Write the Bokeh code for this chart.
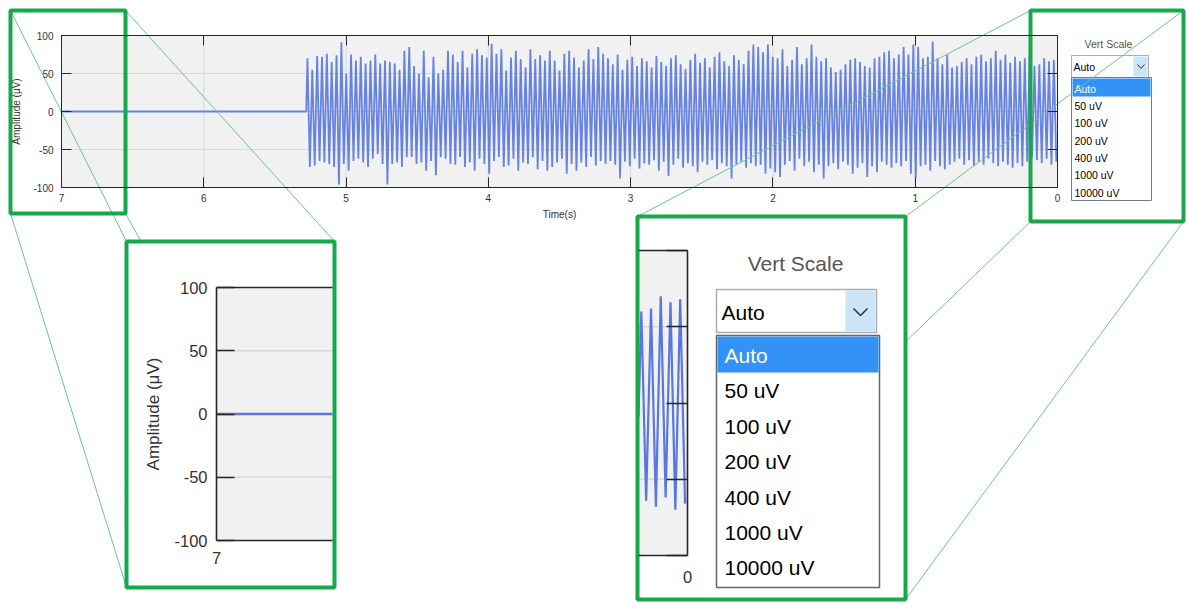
import numpy as np
from bokeh.plotting import figure
from bokeh.models import Range1d, LinearAxis, FixedTicker, CustomJSTickFormatter
from bokeh.core.properties import value
from bokeh.embed import file_html
from bokeh.resources import INLINE

# ---------------- data ----------------
time_ticks = [0, 1, 2, 3, 4, 5, 6, 7]
time_tick_labels = ["0", "1", "2", "3", "4", "5", "6", "7"]
amp_ticks = [-100, -50, 0, 50, 100]
amp_tick_labels = ["-100", "-50", "0", "50", "100"]
amp_grid = [-50, 0, 50]
record_len = 7.0      # s (left end of the reversed time axis)
onset = 5.28          # s, end of the flat baseline

upper_peaks = [
    70, 55, 73, 72, 76, 65, 74, 91, 50, 75, 67, 72, 63, 67, 75, 63, 67, 65, 63, 55, 80, 85, 60, 50, 80, 45, 72, 50, 55, 80, 75,
    65, 80, 58, 76, 82, 74, 71, 89, 76, 82, 54, 71, 80, 69, 58, 82, 69, 74, 67, 80, 67, 54, 76, 80, 71, 58, 67, 82, 69, 85, 76,
    70, 62, 75, 55, 68, 72, 60, 70, 66, 58, 73, 65, 60, 70, 74, 62, 56, 68, 76, 64, 70, 58, 72, 78, 66, 60, 74, 68, 62, 80, 88,
    85, 78, 88, 72, 70, 82, 60, 68, 85, 62, 70, 88, 72, 66, 70, 58, 52, 55, 62, 68, 70, 65, 60, 58, 70, 72, 78, 80, 70, 75, 85,
    75, 88, 85, 70, 72, 92, 70, 62, 75, 58, 60, 65, 70, 62, 72, 75, 66, 70, 80, 68, 75, 64, 72, 66, 70, 74, 60, 62, 70, 66, 68,
]
lower_peaks = [
    -73, -71, -65, -67, -69, -73, -96, -69, -78, -65, -62, -67, -73, -62, -56, -69, -96, -69, -67, -73, -60, -60, -69, -67, -78, -65, -84, -60, -62, -69, -70,
    -60, -73, -67, -78, -62, -69, -82, -65, -60, -73, -71, -62, -78, -67, -69, -60, -76, -65, -78, -73, -67, -62, -82, -69, -78, -67, -73, -60, -71, -65, -69,
    -65, -70, -88, -66, -72, -62, -75, -68, -70, -64, -78, -66, -85, -70, -62, -74, -68, -72, -80, -66, -70, -64, -76, -68, -72, -88, -70, -66, -74, -68, -72,
    -70, -82, -75, -80, -86, -70, -65, -78, -62, -72, -66, -80, -70, -88, -72, -68, -76, -66, -70, -82, -74, -68, -86, -72, -80, -66, -70, -74, -68, -72, -65,
    -82, -88, -72, -70, -78, -65, -72, -76, -70, -66, -62, -70, -64, -72, -66, -70, -62, -68, -72, -66, -70, -74, -68, -72, -66, -60, -64, -68, -62, -70, -66,
]
scale_options = ["Auto", "50 uV", "100 uV", "200 uV", "400 uV", "1000 uV", "10000 uV"]

# ---------------- signal assembly ----------------
n = len(upper_peaks)
extrema = np.empty(2 * n)
extrema[0::2] = upper_peaks
extrema[1::2] = lower_peaks
dt = onset / (2 * n)
t_osc = onset - (np.arange(2 * n) + 0.5) * dt
sig_t = np.concatenate([[record_len, onset], t_osc])
sig_a = np.concatenate([[0.0, 0.0], extrema])


def clip_time(t, a, tlo, thi):
    """geometric clipping of a polyline to a time window"""
    ot, oa = [], []
    for i in range(len(t)):
        if i > 0:
            t0, a0, t1, a1 = t[i - 1], a[i - 1], t[i], a[i]
            for b in (thi, tlo):
                if (t0 - b) * (t1 - b) < 0:
                    f = (b - t0) / (t1 - t0)
                    ot.append(b)
                    oa.append(a0 + f * (a1 - a0))
        if tlo <= t[i] <= thi:
            ot.append(t[i])
            oa.append(a[i])
    return ot, oa


# ---------------- layout (page pixel coordinates) ----------------
W, H = 1186, 603
PX0, PX1 = 0, W
PY0, PY1 = 0, H
FONT = "Liberation Sans"
AX = "#262626"
TXT = "#333333"
BG = "#f1f1f1"
GRID = "#d9d9d9"
BLUE = "#5877e0"
GREEN = "#17a84b"
THIN = "#6cc590"


def xrange_for(d0, p0, d1, p1):
    k = (d1 - d0) / (p1 - p0)
    return Range1d(start=d0 + (PX0 - p0) * k, end=d0 + (PX1 - p0) * k)


def yrange_for(d0, p0, d1, p1):
    k = (d1 - d0) / (p1 - p0)
    return Range1d(start=d0 + (PY1 - p0) * k, end=d0 + (PY0 - p0) * k)


p = figure(width=W, height=H, x_range=Range1d(PX0, PX1), y_range=Range1d(PY1, PY0),
           output_backend="svg", toolbar_location=None, min_border=0,
           x_axis_type=None, y_axis_type=None, title=None,
           outline_line_color=None, background_fill_color="white", border_fill_color="white")

main_pps = (1057 - 61) / 7.0
p.extra_x_ranges = {
    "mx": xrange_for(7, 61, 0, 1057),
    "lx": xrange_for(7, 216, 6, 216 + main_pps * 253 / 152),
    "rx": xrange_for(0, 687, 1, 687 - main_pps * 305 / 152),
}
p.extra_y_ranges = {
    "my": yrange_for(100, 35, -100, 187),
    "ly": yrange_for(100, 287, -100, 540),
    "ry": yrange_for(100, 250, -100, 555),
}
t_vis_l = 7 - (332 - 216) / (main_pps * 253 / 152)
t_vis_r = (687 - 638) / (main_pps * 305 / 152)


def add_axis(side, xr, yr, loc, bounds, ticks, tick_in, lw, labels=None, size="10px",
             standoff=6, label=None, label_size="10.5px", label_standoff=5):
    ax = LinearAxis(x_range_name=xr, y_range_name=yr, fixed_location=loc, bounds=bounds,
                    ticker=FixedTicker(ticks=ticks, minor_ticks=[]),
                    major_tick_in=tick_in, major_tick_out=0, minor_tick_in=0, minor_tick_out=0,
                    axis_line_color=AX, axis_line_width=lw,
                    major_tick_line_color=AX, major_tick_line_width=lw,
                    major_label_text_font=FONT, major_label_text_font_size=size,
                    major_label_text_color=TXT, major_label_standoff=standoff)
    if labels is None:
        ax.formatter = CustomJSTickFormatter(code="return ''")
    else:
        ax.major_label_overrides = {t: l for t, l in zip(ticks, labels)}
    if label is not None:
        ax.axis_label = label
        ax.axis_label_text_font = FONT
        ax.axis_label_text_font_size = label_size
        ax.axis_label_text_font_style = "normal"
        ax.axis_label_text_color = TXT
        ax.axis_label_standoff = label_standoff
    p.add_layout(ax, side)


# ---------------- main chart ----------------
tmin, tmax = min(time_ticks), max(time_ticks)
amin, amax = min(amp_ticks), max(amp_ticks)
inner_t = [t for t in time_ticks if tmin < t < tmax]

p.quad(left=[tmax], right=[tmin], bottom=[amin], top=[amax], x_range_name="mx", y_range_name="my",
       fill_color=BG, line_color=None)
p.segment(x0=inner_t, x1=inner_t, y0=[amin] * len(inner_t), y1=[amax] * len(inner_t),
          x_range_name="mx", y_range_name="my", line_color=GRID, line_width=1)
p.segment(x0=[tmax] * 3, x1=[tmin] * 3, y0=amp_grid, y1=amp_grid,
          x_range_name="mx", y_range_name="my", line_color=GRID, line_width=1)
p.line(sig_t, sig_a, x_range_name="mx", y_range_name="my", line_color=BLUE, line_width=1.8,
       line_alpha=0.9)

add_axis("below", "mx", "my", amin, (tmin, tmax), time_ticks, 10, 1, time_tick_labels, "10px", 6,
         "Time(s)", "10px", 4)
add_axis("above", "mx", "my", amax, (tmin, tmax), time_ticks, 10, 1)
add_axis("left", "mx", "my", tmax, (amin, amax), amp_ticks, 10, 1, amp_tick_labels, "10px", 8,
         "Amplitude (\u03bcV)", "10px", 8)
add_axis("right", "mx", "my", tmin, (amin, amax), amp_ticks, 10, 1)

# drop-down in the main panel
p.text(x=[1108], y=[43], text=["Vert Scale"], text_font=value(FONT), text_font_size="10.5px",
       text_color="#555555", text_align="center", text_baseline="middle")
p.quad(left=[1071], right=[1148], top=[55], bottom=[77], fill_color="white", line_color="#adadad", line_width=1)
p.quad(left=[1133], right=[1147], top=[56], bottom=[76], fill_color="#cce4f7", line_color=None)
p.line(x=[1137, 1140.5, 1144], y=[64, 68, 64], line_color="#333333", line_width=1)
p.text(x=[1073], y=[66], text=["Auto"], text_font=value(FONT), text_font_size="10.5px",
       text_color="black", text_baseline="middle")
p.quad(left=[1071], right=[1151], top=[77], bottom=[200], fill_color="white", line_color="#7a7a7a", line_width=1)
p.quad(left=[1072], right=[1150], top=[78], bottom=[96], fill_color="#3392f5", line_color=None)
p.text(x=[1074] * len(scale_options), y=[88 + i * 17.35 for i in range(len(scale_options))],
       text=scale_options, text_font=value(FONT), text_font_size="10.5px",
       text_color=["white"] + ["black"] * (len(scale_options) - 1), text_baseline="middle")

# ---------------- magnification connectors & frames ----------------
conn_x0 = [10, 125, 10, 125, 1030, 1183, 1030, 1183]
conn_y0 = [10, 10, 213, 213, 10, 10, 221, 221]
conn_x1 = [126, 334, 126, 334, 637, 905, 637, 905]
conn_y1 = [241, 241, 587, 587, 216, 216, 599, 599]
p.segment(x0=conn_x0, y0=conn_y0, x1=conn_x1, y1=conn_y1, line_color=THIN, line_width=1)
p.quad(left=[10, 1030], right=[125, 1183], top=[10, 10], bottom=[213, 221],
       fill_color=None, line_color=GREEN, line_width=4)

# ---------------- left inset ----------------
p.quad(left=[126], right=[334], top=[241], bottom=[587], fill_color="white", line_color=None)
p.quad(left=[tmax], right=[t_vis_l], bottom=[amin], top=[amax], x_range_name="lx", y_range_name="ly",
       fill_color=BG, line_color=None)
p.segment(x0=[tmax] * 2, x1=[t_vis_l] * 2, y0=[-50, 50], y1=[-50, 50],
          x_range_name="lx", y_range_name="ly", line_color=GRID, line_width=1.6)
lt, la = clip_time(sig_t, sig_a, t_vis_l, tmax)
p.line(lt, la, x_range_name="lx", y_range_name="ly", line_color=BLUE, line_width=2.4)
add_axis("left", "lx", "ly", tmax, (amin, amax), amp_ticks, 18, 1.6, amp_tick_labels, "16.5px", 9,
         "Amplitude (\u03bcV)", "17px", 8)
add_axis("below", "lx", "ly", amin, (t_vis_l, tmax), [tmax], 0, 1.6, ["7"], "16.5px", 11)
add_axis("above", "lx", "ly", amax, (t_vis_l, tmax), [tmax], 0, 1.6)

# ---------------- right inset ----------------
p.quad(left=[637], right=[905], top=[216], bottom=[599], fill_color="white", line_color=None)
p.quad(left=[t_vis_r], right=[tmin], bottom=[amin], top=[amax], x_range_name="rx", y_range_name="ry",
       fill_color=BG, line_color=None)
p.segment(x0=[t_vis_r] * 2, x1=[tmin] * 2, y0=[-50, 50], y1=[-50, 50],
          x_range_name="rx", y_range_name="ry", line_color=GRID, line_width=1.6)
rt, ra = clip_time(sig_t, sig_a, tmin, t_vis_r)
p.line(rt, ra, x_range_name="rx", y_range_name="ry", line_color=BLUE, line_width=2.2)
add_axis("right", "rx", "ry", tmin, (amin, amax), amp_ticks, 21, 1.6)
add_axis("below", "rx", "ry", amin, (tmin, t_vis_r), [tmin], 0, 1.6, ["0"], "16.5px", 15)
add_axis("above", "rx", "ry", amax, (tmin, t_vis_r), [tmin], 0, 1.6)

p.text(x=[795], y=[263], text=["Vert Scale"], text_font=value(FONT), text_font_size="21px",
       text_color="#555555", text_align="center", text_baseline="middle")
p.quad(left=[716], right=[876], top=[289], bottom=[332], fill_color="white", line_color="#adadad", line_width=1.5)
p.quad(left=[845], right=[875], top=[290], bottom=[331], fill_color="#cce4f7", line_color=None)
p.line(x=[853, 860, 867], y=[308, 315, 308], line_color="#333333", line_width=1.5)
p.text(x=[721], y=[312], text=["Auto"], text_font=value(FONT), text_font_size="21px",
       text_color="black", text_baseline="middle")
p.quad(left=[716], right=[879], top=[335], bottom=[587], fill_color="white", line_color="#666666", line_width=1.5)
p.quad(left=[717], right=[878], top=[336], bottom=[372], fill_color="#3392f5", line_color=None)
p.text(x=[724] * len(scale_options), y=[355 + i * 35.4 for i in range(len(scale_options))],
       text=scale_options, text_font=value(FONT), text_font_size="21px",
       text_color=["white"] + ["black"] * (len(scale_options) - 1), text_baseline="middle")

p.quad(left=[126, 637], right=[334, 905], top=[241, 216], bottom=[587, 599],
       fill_color=None, line_color=GREEN, line_width=4)

open("out.html", "w").write(file_html(p, INLINE))
